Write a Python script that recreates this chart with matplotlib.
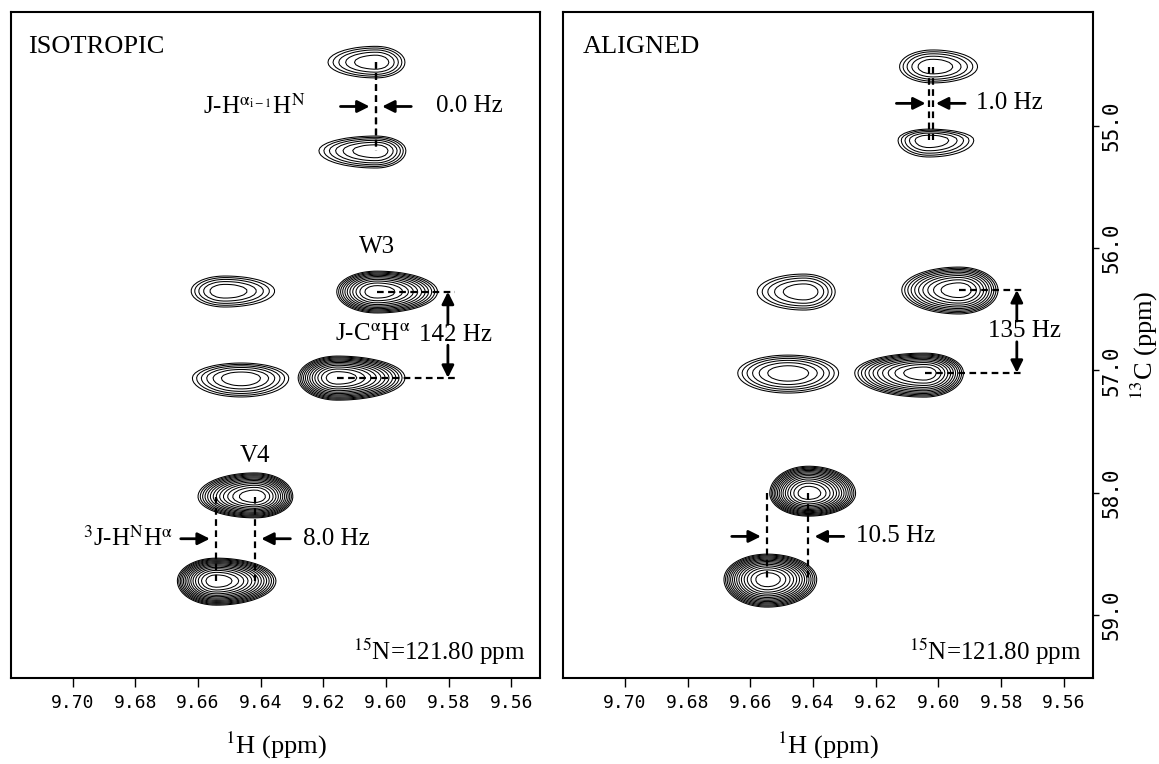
import matplotlib.pyplot as plt
import numpy as np

plt.rcParams['font.family'] = 'Liberation Serif'
plt.rcParams['mathtext.fontset'] = 'stix'

# peaks: 1H shift, 13C shift, number of contour levels,
# extent of the outer contour (ppm) to the left / right / top / bottom
iso_h = [9.6032, 9.6032, 9.6514, 9.6029, 9.6462, 9.6155, 9.6418, 9.6542]
iso_c = [54.479, 55.202, 56.350, 56.356, 57.062, 57.060, 58.032, 58.721]
iso_n = [5, 6, 5, 11, 6, 12, 13, 14]
iso_wl = [0.0153, 0.0182, 0.0108, 0.0128, 0.0156, 0.0125, 0.0182, 0.0124]
iso_wr = [0.0093, 0.0096, 0.0159, 0.0194, 0.0152, 0.0216, 0.0121, 0.0191]
iso_wu = [0.131, 0.120, 0.123, 0.169, 0.123, 0.178, 0.194, 0.186]
iso_wd = [0.128, 0.142, 0.131, 0.174, 0.155, 0.183, 0.174, 0.199]

ali_h = [9.6018, 9.6031, 9.6428, 9.5934, 9.6479, 9.6044, 9.6415, 9.6546]
ali_c = [54.515, 55.115, 56.356, 56.342, 57.021, 57.019, 58.006, 58.709]
ali_n = [5, 5, 5, 10, 6, 11, 14, 14]
ali_wl = [0.0106, 0.0098, 0.0150, 0.0183, 0.0161, 0.0223, 0.0123, 0.0138]
ali_wr = [0.0143, 0.0144, 0.0099, 0.0124, 0.0161, 0.0124, 0.0151, 0.0158]
ali_wu = [0.137, 0.090, 0.145, 0.188, 0.147, 0.161, 0.223, 0.207]
ali_wd = [0.133, 0.139, 0.150, 0.196, 0.164, 0.199, 0.186, 0.227]

iso_hz = ['0.0 Hz', '142 Hz', '8.0 Hz']
ali_hz = ['1.0 Hz', '135 Hz', '10.5 Hz']

x_ticks = [9.70, 9.68, 9.66, 9.64, 9.62, 9.60, 9.58, 9.56]
y_ticks = [55.0, 56.0, 57.0, 58.0, 59.0]

DASH = dict(color='k', lw=1.6, ls=(0, (3, 2)))
ARR = dict(arrowstyle='-|>', color='k', lw=2, mutation_scale=18, shrinkA=0, shrinkB=0)
FS = 18
TICKFONT = 'DejaVu Sans Mono'


def spectrum(ax, h, c, n, wl, wr, wu, wd):
    H, C = np.meshgrid(np.arange(9.545, 9.725, 0.0012), np.arange(54.0, 59.6, 0.02))
    Z = np.full(H.shape, -50.0)
    for hi, ci, ni, l, r, u, d in zip(h, c, n, wl, wr, wu, wd):
        dx = H - hi
        dy = C - ci
        sx = np.where(dx > 0, l, r)
        sy = np.where(dy < 0, u, d)
        Z = np.maximum(Z, ni * (1 - (dx / sx) ** 2 - (dy / sy) ** 2))
    ax.contour(H, C, Z, levels=np.arange(0, max(n)), colors='k', linewidths=0.75)


def hsplit(ax, h, c, i, j, gap, hz, hz_x, label=None, label_x=None):
    # vertical guide lines through both peaks and arrows pointing at them
    for k in (i, j):
        ax.plot([h[k], h[k]], [c[i], c[j]], **DASH)
    ym = (c[i] + c[j]) / 2
    hi, lo = max(h[i], h[j]), min(h[i], h[j])
    ax.annotate('', xy=(hi + gap, ym), xytext=(hi + gap + 0.0093, ym), arrowprops=ARR)
    ax.annotate('', xy=(lo - gap, ym), xytext=(lo - gap - 0.0093, ym), arrowprops=ARR)
    ax.text(hz_x, ym, hz, ha='left', va='center', fontsize=FS)
    if label:
        ax.text(label_x, ym, label, ha='right', va='center', fontsize=FS)


def csplit(ax, h, c, i, j, xa, hz, label=None, label_x=None):
    for k in (i, j):
        ax.plot([h[k], xa - 0.0023], [c[k], c[k]], **DASH)
    ym = (c[i] + c[j]) / 2
    ax.annotate('', xy=(xa, c[i]), xytext=(xa, ym - 0.085), arrowprops=ARR)
    ax.annotate('', xy=(xa, c[j]), xytext=(xa, ym + 0.085), arrowprops=ARR)
    ax.text(xa - 0.0023, ym, hz, ha='center', va='center', fontsize=FS)
    if label:
        ax.text(label_x, ym, label, ha='right', va='center', fontsize=FS)


fig = plt.figure(figsize=(11.59, 7.64), dpi=100)
ax1 = fig.add_axes([0.0095, 0.1130, 0.4564, 0.8709])
ax2 = fig.add_axes([0.4858, 0.1130, 0.4570, 0.8709])

spectrum(ax1, iso_h, iso_c, iso_n, iso_wl, iso_wr, iso_wu, iso_wd)
spectrum(ax2, ali_h, ali_c, ali_n, ali_wl, ali_wr, ali_wu, ali_wd)

# ISOTROPIC
hsplit(ax1, iso_h, iso_c, 0, 1, 0.002, iso_hz[0], 9.584,
       r'J-H$^{\mathrm{\alpha}_{\mathrm{i-1}}}$H$^{\mathrm{N}}$', 9.6258)
csplit(ax1, iso_h, iso_c, 3, 5, 9.5802, iso_hz[1],
       r'J-C$^{\mathrm{\alpha}}$H$^{\mathrm{\alpha}}$', 9.5921)
hsplit(ax1, iso_h, iso_c, 6, 7, 0.002, iso_hz[2], 9.6265,
       r'$^{3}$J-H$^{\mathrm{N}}$H$^{\mathrm{\alpha}}$', 9.6679)
ax1.text(iso_h[3], iso_c[3] - 0.37, 'W3', ha='center', va='center', fontsize=FS)
ax1.text(iso_h[6], iso_c[6] - 0.33, 'V4', ha='center', va='center', fontsize=FS)
ax1.text(0.032, 0.948, 'ISOTROPIC', transform=ax1.transAxes, va='center', fontsize=19)

# ALIGNED
hsplit(ax2, ali_h, ali_c, 0, 1, 0.001, ali_hz[0], 9.5879)
csplit(ax2, ali_h, ali_c, 3, 5, 9.5750, ali_hz[1])
hsplit(ax2, ali_h, ali_c, 6, 7, 0.002, ali_hz[2], 9.6262)
ax2.text(0.038, 0.948, 'ALIGNED', transform=ax2.transAxes, va='center', fontsize=19)

for ax, xr in ((ax1, 0.973), (ax2, 0.979)):
    ax.text(xr, 0.039, r'$^{15}$N=121.80 ppm', transform=ax.transAxes,
            ha='right', va='center', fontsize=FS)
    ax.set_xlim(9.7197, 9.5508)
    ax.set_ylim(59.513, 54.070)
    ax.set_xticks(x_ticks, [f'{t:.2f}' for t in x_ticks],
                  fontfamily=TICKFONT, fontsize=13)
    ax.tick_params(axis='x', direction='out', length=6.5, width=1, pad=5)
    ax.set_xlabel(r'$^{1}$H (ppm)', fontsize=19, labelpad=13)
    for s in ax.spines.values():
        s.set_linewidth(1.5)

ax1.set_yticks([])
ax2.yaxis.tick_right()
ax2.yaxis.set_label_position('right')
ax2.set_yticks(y_ticks, [f'{t:.1f}' for t in y_ticks], rotation=90, va='center',
               fontfamily=TICKFONT, fontsize=15)
ax2.tick_params(axis='y', direction='out', length=4, width=1, pad=2)
ax2.set_ylabel(r'$^{13}$C (ppm)', fontsize=19, labelpad=6)

fig.savefig('out.png', dpi=100)
